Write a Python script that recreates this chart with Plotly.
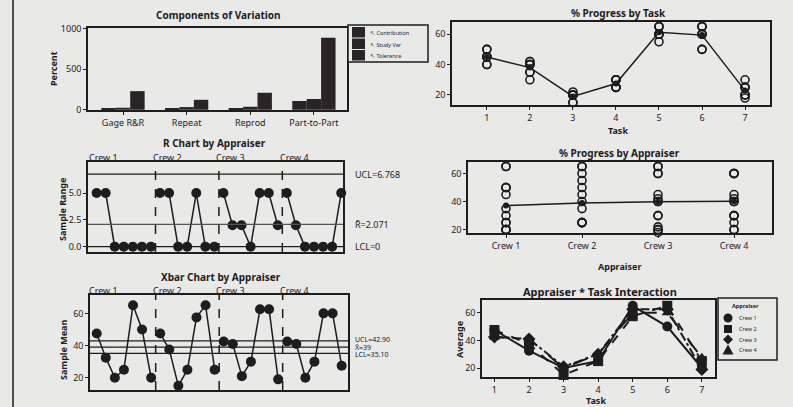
import plotly.graph_objects as go

W, H = 793, 407
INK = "#1f1c1d"
BG = "#e9e9e8"
FONT = "Noto Sans"

# ---------------- data ----------------
crews = ["Crew 1", "Crew 2", "Crew 3", "Crew 4"]
tasks = [1, 2, 3, 4, 5, 6, 7]
# % progress readings, two trials per crew and task
trial_1 = [[45, 30, 20, 25, 65, 50, 20],
           [45, 35, 15, 25, 55, 65, 25],
           [40, 40, 20, 30, 60, 60, 18],
           [40, 40, 20, 30, 60, 60, 25]]
trial_2 = [[50, 35, 20, 25, 65, 50, 20],
           [50, 40, 15, 25, 60, 65, 25],
           [45, 42, 22, 30, 65, 65, 20],
           [45, 42, 20, 30, 60, 60, 30]]

sources = ["Gage R&R", "Repeat", "Reprod", "Part-to-Part"]
pct_contribution = [12, 12, 17, 108]
pct_study_var = [25, 33, 37, 133]
pct_tolerance = [230, 123, 210, 889]
comp_names = ["Contribution", "Study Var", "Tolerance"]

r_ucl, r_bar, r_lcl = 6.768, 2.071, 0.0
x_ucl, x_grand, x_lcl = 42.90, 39.0, 35.10
r_ticks = [0, 2.5, 5]
r_ticktext = ["0.0", "2.5", "5.0"]

# ---------------- derived ----------------
means = [[(a + b) / 2 for a, b in zip(t1, t2)] for t1, t2 in zip(trial_1, trial_2)]
ranges = [[abs(a - b) for a, b in zip(t1, t2)] for t1, t2 in zip(trial_1, trial_2)]
n_t = len(tasks)
idx = [[c * n_t + k + 1 for k in range(n_t)] for c in range(len(crews))]


def px(x):
    return x / W


def py(y):
    return 1 - y / H


fig = go.Figure()

# ---- panel 1: components of variation ----
for name, vals in zip(comp_names, [pct_contribution, pct_study_var, pct_tolerance]):
    fig.add_trace(go.Bar(x=sources, y=vals, name=name, marker=dict(color="#2a2426", line=dict(width=0)),
                         xaxis="x", yaxis="y", showlegend=False))

# ---- panel 2: progress by task ----
for c in range(len(crews)):
    for tr in (trial_1, trial_2):
        fig.add_trace(go.Scatter(x=tasks, y=tr[c], mode="markers", xaxis="x2", yaxis="y2",
                                 marker=dict(symbol="circle-open", size=8, color=INK, line=dict(width=1.6)),
                                 showlegend=False, cliponaxis=False))
task_means = [sum(means[c][k] for c in range(len(crews))) / len(crews) for k in range(n_t)]
fig.add_trace(go.Scatter(x=tasks, y=task_means, mode="lines+markers", xaxis="x2", yaxis="y2",
                         line=dict(color=INK, width=1.5), marker=dict(size=6, color=INK),
                         showlegend=False))

# ---- panel 3: R chart ----
for c in range(len(crews)):
    fig.add_trace(go.Scatter(x=idx[c], y=ranges[c], mode="lines+markers", xaxis="x3", yaxis="y3",
                             line=dict(color=INK, width=1.5), marker=dict(size=10, color=INK),
                             showlegend=False, cliponaxis=False))

# ---- panel 4: progress by appraiser ----
crew_pos = [1, 2, 3, 4]
for c in range(len(crews)):
    vals = trial_1[c] + trial_2[c]
    fig.add_trace(go.Scatter(x=[crew_pos[c]] * len(vals), y=vals, mode="markers", xaxis="x4", yaxis="y4",
                             marker=dict(symbol="circle-open", size=8, color=INK, line=dict(width=1.6)),
                             showlegend=False, cliponaxis=False))
crew_means = [(sum(trial_1[c]) + sum(trial_2[c])) / (2 * n_t) for c in range(len(crews))]
fig.add_trace(go.Scatter(x=crew_pos, y=crew_means, mode="lines+markers", xaxis="x4", yaxis="y4",
                         line=dict(color=INK, width=1.5), marker=dict(size=6, color=INK), showlegend=False))

# ---- panel 5: Xbar chart ----
for c in range(len(crews)):
    fig.add_trace(go.Scatter(x=idx[c], y=means[c], mode="lines+markers", xaxis="x5", yaxis="y5",
                             line=dict(color=INK, width=1.5), marker=dict(size=10, color=INK),
                             showlegend=False, cliponaxis=False))

# ---- panel 6: interaction ----
symbols = ["circle", "square", "diamond", "triangle-up"]
dashes = ["solid", "dash", "dashdot", "longdash"]
for c in range(len(crews)):
    fig.add_trace(go.Scatter(x=tasks, y=means[c], mode="lines+markers", xaxis="x6", yaxis="y6",
                             name=crews[c], line=dict(color=INK, width=2, dash=dashes[c]),
                             marker=dict(symbol=symbols[c], size=10, color=INK),
                             showlegend=False, cliponaxis=False))

# ---------------- axes ----------------
def dom_x(a, b):
    return [px(a), px(b)]


def dom_y(top, bottom):
    return [py(bottom), py(top)]


def ax(domain, anchor, **kw):
    d = dict(domain=domain, anchor=anchor, showline=True, mirror=True, linecolor=INK, linewidth=1.5,
             showgrid=False, zeroline=False, ticks="outside", ticklen=3, tickwidth=1, tickcolor=INK,
             automargin=False, tickfont=dict(family=FONT, size=9, color=INK))
    d.update(kw)
    return d


n_all = len(crews) * n_t
fig.update_layout(
    template="none",
    xaxis=ax(dom_x(88, 347), "y", type="category", range=[-0.55, 3.52]),
    yaxis=ax(dom_y(28, 110), "x", range=[-3, 1010], tickvals=[0, 500, 1000]),
    xaxis2=ax(dom_x(452, 770), "y2", range=[0.19, 7.58], tickvals=tasks),
    yaxis2=ax(dom_y(22, 105), "x2", range=[13.4, 68], tickvals=[20, 40, 60]),
    xaxis3=ax(dom_x(88, 343), "y3", range=[0.05, n_all + 0.2], showticklabels=False, ticks=""),
    yaxis3=ax(dom_y(162, 252), "x3", range=[-0.5, 7.9], tickvals=r_ticks, ticktext=r_ticktext),
    xaxis4=ax(dom_x(468, 772), "y4", range=[0.5, 4.5], tickvals=crew_pos, ticktext=crews),
    yaxis4=ax(dom_y(162, 233), "x4", range=[17.6, 68.2], tickvals=[20, 40, 60]),
    xaxis5=ax(dom_x(90, 348), "y5", range=[0.26, n_all + 0.7], showticklabels=False, ticks=""),
    yaxis5=ax(dom_y(295, 390), "x5", range=[12.4, 71.4], tickvals=[20, 40, 60]),
    xaxis6=ax(dom_x(482, 715), "y6", range=[0.64, 7.38], tickvals=tasks),
    yaxis6=ax(dom_y(300, 377), "x6", range=[13.5, 69.2], tickvals=[20, 40, 60]),
    width=W, height=H, margin=dict(l=0, r=0, t=0, b=0, pad=0), autosize=False,
    paper_bgcolor=BG, plot_bgcolor=BG, bargap=0.32, barmode="group",
    showlegend=False, font=dict(family=FONT, color=INK),
)

shapes = []
annotations = []

# control limit lines
for val, col in [(r_ucl, INK), (r_bar, "#555"), (r_lcl, INK)]:
    shapes.append(dict(type="line", xref="x3 domain", yref="y3", x0=0, x1=1, y0=val, y1=val,
                       line=dict(color=col, width=1.2)))
for val in (x_ucl, x_grand, x_lcl):
    shapes.append(dict(type="line", xref="x5 domain", yref="y5", x0=0, x1=1, y0=val, y1=val,
                       line=dict(color=INK, width=1.2)))
# crew dividers
for c in range(1, len(crews)):
    b = c * n_t + 0.5
    for xr, yr in (("x3", "y3 domain"), ("x5", "y5 domain")):
        shapes.append(dict(type="line", xref=xr, yref=yr, x0=b, x1=b, y0=0, y1=1,
                           line=dict(color=INK, width=1.5, dash="dash")))

# page border at the left
shapes.append(dict(type="line", xref="paper", yref="paper", x0=px(13), x1=px(13), y0=0, y1=1,
                   line=dict(color=INK, width=1.5)))


def txt(t, x, y, size=9, bold=False, angle=0, xanchor="center", yanchor="middle", color=INK):
    annotations.append(dict(text=f"<b>{t}</b>" if bold else t, x=px(x), y=py(y), xref="paper", yref="paper",
                            showarrow=False, xanchor=xanchor, yanchor=yanchor, textangle=angle,
                            font=dict(family=FONT, size=size, color=color)))


# titles
txt("Components of Variation", 218, 15, 10, True)
txt("% Progress by Task", 618, 13, 10, True)
txt("R Chart by Appraiser", 214, 143, 10, True)
txt("% Progress by Appraiser", 619, 153, 10, True)
txt("Xbar Chart by Appraiser", 221, 277, 10, True)
txt("Appraiser * Task Interaction", 600, 291, 11, True)

# axis titles
txt("Percent", 53, 69, 9, True, -90)
txt("Sample Range", 62, 210, 9, True, -90)
txt("Sample Mean", 63, 350, 9, True, -90)
txt("Average", 459, 340, 9, True, -90)
txt("Task", 618, 130, 9, True)
txt("Appraiser", 619, 266, 9, True)
txt("Task", 596, 400, 9, True)

# crew labels over control charts (sitting on the top border)
for c in range(len(crews)):
    pos = c * n_t + 1.8
    for xr, yc in (("x3", 157), ("x5", 290)):
        annotations.append(dict(text=crews[c], x=pos, y=py(yc), xref=xr, yref="paper", showarrow=False,
                                xanchor="center", yanchor="middle",
                                font=dict(family=FONT, size=9, color=INK)))

# limit labels
for label, val in [("UCL=6.768", r_ucl), ("R\u0304=2.071", r_bar), ("LCL=0", r_lcl)]:
    annotations.append(dict(text=label, x=px(353), y=val, xref="paper", yref="y3", showarrow=False,
                            xanchor="left", yanchor="middle", font=dict(family=FONT, size=9, color=INK)))
for label, val, shift in [("UCL=42.90", x_ucl, 1.5), ("X\u0304=39", x_grand, 0), ("LCL=35.10", x_lcl, -1.5)]:
    annotations.append(dict(text=label, x=px(353), y=val, xref="paper", yref="y5", showarrow=False,
                            xanchor="left", yanchor="middle", yshift=shift,
                            font=dict(family=FONT, size=7, color=INK)))

# legend: components of variation
shapes.append(dict(type="rect", xref="paper", yref="paper", x0=px(348), x1=px(428), y0=py(62), y1=py(25),
                   line=dict(color=INK, width=1.5), fillcolor=BG))
for i, name in enumerate(comp_names):
    ytop = 27 + i * 11.5
    shapes.append(dict(type="rect", xref="paper", yref="paper", x0=px(352), x1=px(365), y0=py(ytop + 10.5),
                       y1=py(ytop), line=dict(width=0), fillcolor="#2a2426"))
    txt("\u2196 " + name, 368, ytop + 6, 5.5, xanchor="left")

# legend: interaction
shapes.append(dict(type="rect", xref="paper", yref="paper", x0=px(718), x1=px(777), y0=py(360), y1=py(298),
                   line=dict(color=INK, width=1.5), fillcolor=BG))
txt("Appraiser", 745, 306, 5.5, True)
leg_y = [318, 329, 339.5, 350]
sx = 728
r = 4.5
shapes.append(dict(type="circle", xref="paper", yref="paper", x0=px(sx - r), x1=px(sx + r),
                   y0=py(leg_y[0] + r), y1=py(leg_y[0] - r), line=dict(width=0), fillcolor=INK))
shapes.append(dict(type="rect", xref="paper", yref="paper", x0=px(sx - 4), x1=px(sx + 4),
                   y0=py(leg_y[1] + 4), y1=py(leg_y[1] - 4), line=dict(width=0), fillcolor=INK))


def path(points):
    return "M " + " L ".join(f"{px(a)} {py(b)}" for a, b in points) + " Z"


shapes.append(dict(type="path", xref="paper", yref="paper",
                   path=path([(sx, leg_y[2] - 5), (sx + 5, leg_y[2]), (sx, leg_y[2] + 5), (sx - 5, leg_y[2])]),
                   line=dict(width=0), fillcolor=INK))
shapes.append(dict(type="path", xref="paper", yref="paper",
                   path=path([(sx, leg_y[3] - 5.5), (sx + 5.5, leg_y[3] + 4.5), (sx - 5.5, leg_y[3] + 4.5)]),
                   line=dict(width=0), fillcolor=INK))
for c in range(len(crews)):
    txt(crews[c], 737, leg_y[c], 5.5, xanchor="left")

fig.update_layout(shapes=shapes, annotations=annotations)
fig.write_html("out.html", config={"displayModeBar": False},
               post_script="document.body.style.margin='0';document.body.style.background='%s';" % BG)
